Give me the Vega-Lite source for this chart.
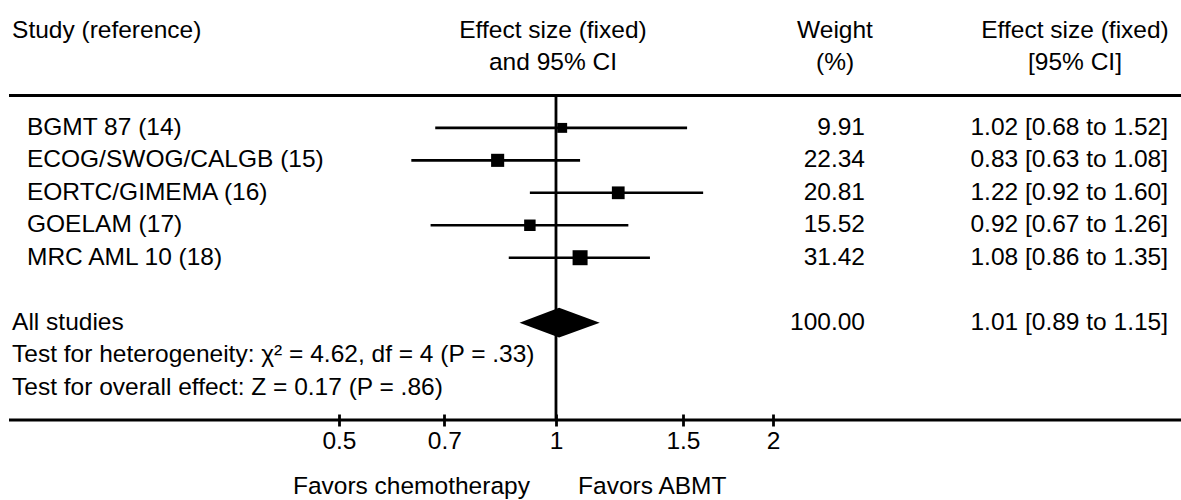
{
  "$schema": "https://vega.github.io/schema/vega-lite/v6.json",
  "width": 1172,
  "height": 420,
  "padding": {"left": 9, "top": 0, "right": 0, "bottom": 80},
  "autosize": {"type": "none"},
  "config": {
    "view": {"stroke": null},
    "text": {"font": "Liberation Sans", "fontSize": 24.5, "color": "#000", "baseline": "middle"}
  },
  "datasets": {
    "table": [
      {"kind": "study", "label": "BGMT 87 (14)", "row": 1, "es": 1.02, "lo": 0.68, "hi": 1.52, "weight": 9.91, "wtxt": "9.91", "citxt": "1.02 [0.68 to 1.52]"},
      {"kind": "study", "label": "ECOG/SWOG/CALGB (15)", "row": 2, "es": 0.83, "lo": 0.63, "hi": 1.08, "weight": 22.34, "wtxt": "22.34", "citxt": "0.83 [0.63 to 1.08]"},
      {"kind": "study", "label": "EORTC/GIMEMA (16)", "row": 3, "es": 1.22, "lo": 0.92, "hi": 1.60, "weight": 20.81, "wtxt": "20.81", "citxt": "1.22 [0.92 to 1.60]"},
      {"kind": "study", "label": "GOELAM (17)", "row": 4, "es": 0.92, "lo": 0.67, "hi": 1.26, "weight": 15.52, "wtxt": "15.52", "citxt": "0.92 [0.67 to 1.26]"},
      {"kind": "study", "label": "MRC AML 10 (18)", "row": 5, "es": 1.08, "lo": 0.86, "hi": 1.35, "weight": 31.42, "wtxt": "31.42", "citxt": "1.08 [0.86 to 1.35]"},
      {"kind": "summary", "label": "All studies", "row": 7, "es": 1.01, "lo": 0.89, "hi": 1.15, "weight": 100, "wtxt": "100.00", "citxt": "1.01 [0.89 to 1.15]"}
    ],
    "diamond": [
      {"x": 0.89, "top": 7, "bottom": 7},
      {"x": 1.01, "top": 6.54, "bottom": 7.46},
      {"x": 1.15, "top": 7, "bottom": 7}
    ],
    "notes": [
      {"text": "Test for heterogeneity: χ² = 4.62, df = 4 (P = .33)", "row": 8},
      {"text": "Test for overall effect: Z = 0.17 (P = .86)", "row": 9}
    ],
    "headers": [
      {"col": "study", "row": -2, "text": "Study (reference)"},
      {"col": "es", "row": -2, "text": "Effect size (fixed)"},
      {"col": "es", "row": -1, "text": "and 95% CI"},
      {"col": "w", "row": -2, "text": "Weight"},
      {"col": "w", "row": -1, "text": "(%)"},
      {"col": "ci", "row": -2, "text": "Effect size (fixed)"},
      {"col": "ci", "row": -1, "text": "[95% CI]"}
    ],
    "hlines": [{"row": 0}, {"row": 10}],
    "nullline": [{"es": 1, "from": 0, "to": 10}],
    "favors": [
      {"side": "left", "text": "Favors chemotherapy"},
      {"side": "right", "text": "Favors ABMT"}
    ]
  },
  "layer": [
    {
      "data": {"name": "table"},
      "transform": [{"filter": "datum.kind === 'study'"}],
      "mark": {"type": "rule", "color": "#000", "strokeWidth": 2.6},
      "encoding": {
        "x": {
          "field": "lo", "type": "quantitative",
          "scale": {"type": "log", "domain": [0.1743, 7.361], "nice": false, "zero": false},
          "axis": {
            "values": [0.5, 0.7, 1, 1.5, 2], "format": "~g", "domain": false, "grid": false,
            "ticks": true, "tickSize": 12, "tickWidth": 2.8, "tickColor": "#000", "offset": -6,
            "labelFont": "Liberation Sans", "labelFontSize": 24.5, "labelColor": "#000",
            "labelPadding": 3, "title": null, "labelFlush": false, "labelOverlap": false
          }
        },
        "x2": {"field": "hi"},
        "y": {"field": "row", "type": "quantitative", "scale": {"domain": [-2.94, 10], "reverse": true, "nice": false, "zero": false}, "axis": null}
      }
    },
    {
      "data": {"name": "table"},
      "transform": [{"filter": "datum.kind === 'study'"}],
      "mark": {"type": "point", "shape": "square", "filled": true, "color": "#000", "opacity": 1},
      "encoding": {
        "x": {"field": "es", "type": "quantitative"},
        "y": {"field": "row", "type": "quantitative"},
        "size": {"field": "weight", "type": "quantitative", "scale": {"domain": [0, 31.42], "range": [40, 225]}, "legend": null}
      }
    },
    {
      "data": {"name": "diamond"},
      "mark": {"type": "area", "color": "#000", "opacity": 1},
      "encoding": {
        "x": {"field": "x", "type": "quantitative"},
        "y": {"field": "top", "type": "quantitative"},
        "y2": {"field": "bottom"}
      }
    },
    {
      "data": {"name": "nullline"},
      "mark": {"type": "rule", "color": "#000", "strokeWidth": 2.8},
      "encoding": {
        "x": {"field": "es", "type": "quantitative"},
        "y": {"field": "from", "type": "quantitative"},
        "y2": {"field": "to"}
      }
    },
    {
      "data": {"name": "hlines"},
      "mark": {"type": "rule", "color": "#000", "strokeWidth": 3},
      "encoding": {
        "y": {"field": "row", "type": "quantitative"}
      }
    },
    {
      "data": {"name": "table"},
      "transform": [{"filter": "datum.kind === 'study'"}],
      "mark": {"type": "text", "align": "left"},
      "encoding": {
        "x": {"datum": 0.1846, "type": "quantitative"},
        "y": {"field": "row", "type": "quantitative"},
        "text": {"field": "label"}
      }
    },
    {
      "data": {"name": "table"},
      "transform": [{"filter": "datum.kind === 'summary'"}],
      "mark": {"type": "text", "align": "left"},
      "encoding": {
        "x": {"datum": 0.176, "type": "quantitative"},
        "y": {"field": "row", "type": "quantitative"},
        "text": {"field": "label"}
      }
    },
    {
      "data": {"name": "table"},
      "mark": {"type": "text", "align": "right"},
      "encoding": {
        "x": {"datum": 2.683, "type": "quantitative"},
        "y": {"field": "row", "type": "quantitative"},
        "text": {"field": "wtxt"}
      }
    },
    {
      "data": {"name": "table"},
      "mark": {"type": "text", "align": "right"},
      "encoding": {
        "x": {"datum": 7.062, "type": "quantitative"},
        "y": {"field": "row", "type": "quantitative"},
        "text": {"field": "citxt"}
      }
    },
    {
      "data": {"name": "notes"},
      "mark": {"type": "text", "align": "left"},
      "encoding": {
        "x": {"datum": 0.176, "type": "quantitative"},
        "y": {"field": "row", "type": "quantitative"},
        "text": {"field": "text"}
      }
    },
    {
      "data": {"name": "headers"},
      "transform": [{"filter": "datum.col === 'study'"}],
      "mark": {"type": "text", "align": "left"},
      "encoding": {
        "x": {"datum": 0.176, "type": "quantitative"},
        "y": {"field": "row", "type": "quantitative"},
        "text": {"field": "text"}
      }
    },
    {
      "data": {"name": "headers"},
      "transform": [{"filter": "datum.col === 'es'"}],
      "mark": {"type": "text", "align": "center"},
      "encoding": {
        "x": {"datum": 0.9905, "type": "quantitative"},
        "y": {"field": "row", "type": "quantitative"},
        "text": {"field": "text"}
      }
    },
    {
      "data": {"name": "headers"},
      "transform": [{"filter": "datum.col === 'w'"}],
      "mark": {"type": "text", "align": "center"},
      "encoding": {
        "x": {"datum": 2.438, "type": "quantitative"},
        "y": {"field": "row", "type": "quantitative"},
        "text": {"field": "text"}
      }
    },
    {
      "data": {"name": "headers"},
      "transform": [{"filter": "datum.col === 'ci'"}],
      "mark": {"type": "text", "align": "center"},
      "encoding": {
        "x": {"datum": 5.247, "type": "quantitative"},
        "y": {"field": "row", "type": "quantitative"},
        "text": {"field": "text"}
      }
    },
    {
      "data": {"name": "favors"},
      "transform": [{"filter": "datum.side === 'left'"}],
      "mark": {"type": "text", "align": "right"},
      "encoding": {
        "x": {"datum": 0.92, "type": "quantitative"},
        "y": {"datum": 12.06, "type": "quantitative"},
        "text": {"field": "text"}
      }
    },
    {
      "data": {"name": "favors"},
      "transform": [{"filter": "datum.side === 'right'"}],
      "mark": {"type": "text", "align": "left"},
      "encoding": {
        "x": {"datum": 1.073, "type": "quantitative"},
        "y": {"datum": 12.06, "type": "quantitative"},
        "text": {"field": "text"}
      }
    }
  ]
}
